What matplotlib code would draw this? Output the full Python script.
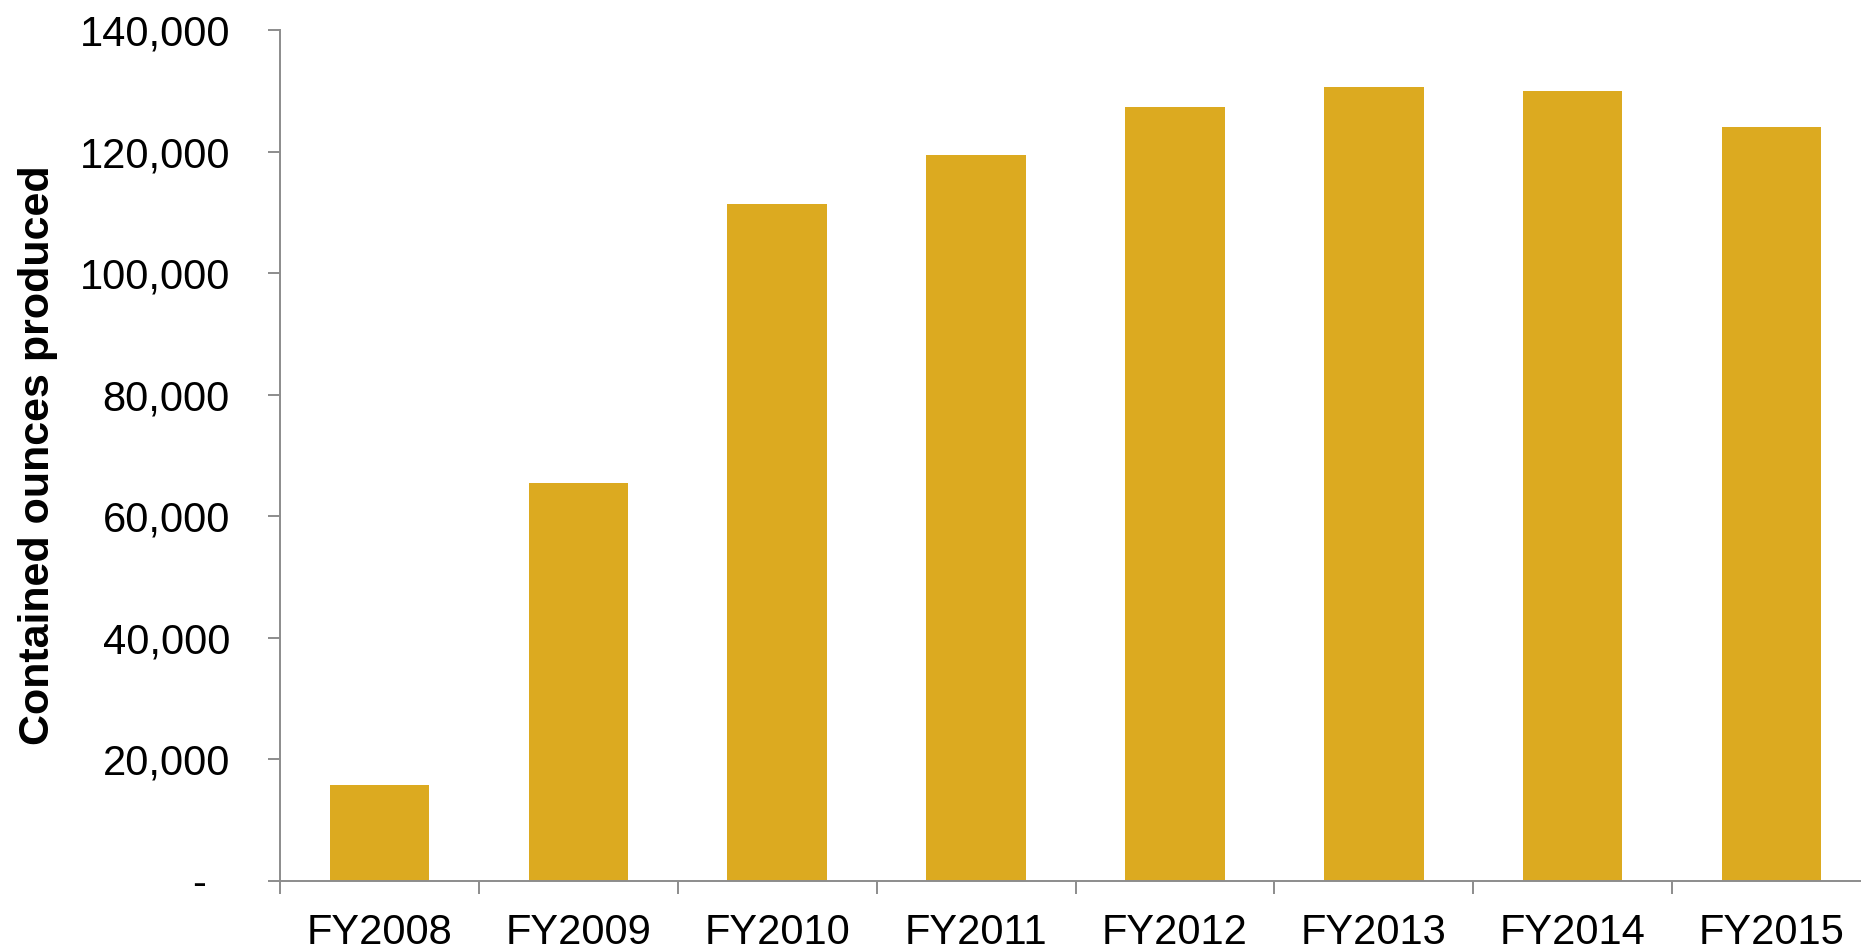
import matplotlib
matplotlib.use("Agg")
import matplotlib.pyplot as plt
from matplotlib.ticker import FuncFormatter, FixedLocator

# Données
years = ["FY2008", "FY2009", "FY2010", "FY2011", "FY2012", "FY2013", "FY2014", "FY2015"]
ounces = [15800, 65500, 111400, 119500, 127350, 130600, 129950, 124000]

BAR_COLOR = "#DCAA20"
AXIS_COLOR = "#8C8C8C"

plt.rcParams['font.family'] = ['Liberation Sans', 'DejaVu Sans']

fig = plt.figure(figsize=(18.61, 9.5), dpi=100)
ax = fig.add_axes([280 / 1861, 69 / 950, 1591 / 1861, 851 / 950])

x = list(range(len(years)))
ax.bar(x, ounces, width=0.5, color=BAR_COLOR)

ax.set_xlim(-0.5, len(years) - 0.5)
ax.set_ylim(0, 140000)

# Axe Y
ax.set_yticks(range(0, 140001, 20000))
ax.yaxis.set_major_formatter(FuncFormatter(lambda v, p: "-  " if v == 0 else f"{int(v):,}"))
ax.tick_params(axis='y', length=9, width=1.4, color=AXIS_COLOR, pad=27, labelsize=30)

# Axe X : ticks aux frontières, labels au centre
ax.xaxis.set_major_locator(FixedLocator([i - 0.5 for i in range(len(years) + 1)]))
ax.xaxis.set_minor_locator(FixedLocator(x))
ax.set_xticklabels([""] * (len(years) + 1))
ax.set_xticklabels(years, minor=True)
ax.tick_params(axis='x', which='major', length=9, width=1.4, color=AXIS_COLOR)
ax.tick_params(axis='x', which='minor', length=0, pad=23, labelsize=30)

for side in ("top", "right"):
    ax.spines[side].set_visible(False)
for side in ("left", "bottom"):
    ax.spines[side].set_color(AXIS_COLOR)
    ax.spines[side].set_linewidth(1.4)

ax.set_ylabel("Contained ounces produced", fontsize=31, fontweight='bold')
ax.yaxis.set_label_coords(-222 / 1591, 0.5)

fig.savefig("out.png", dpi=100)
